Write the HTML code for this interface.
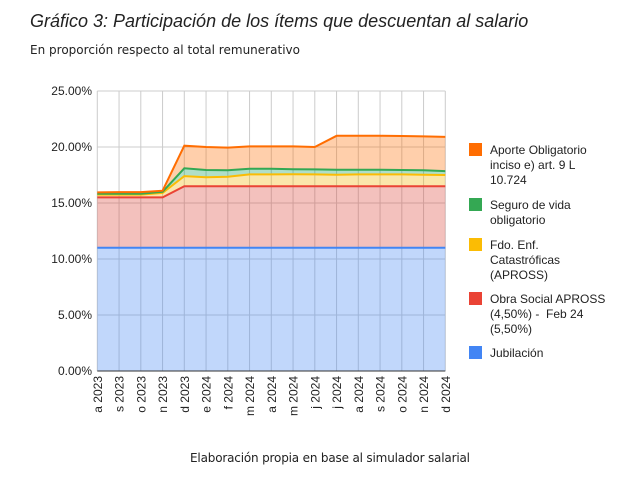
<!DOCTYPE html>
<html><head><meta charset="utf-8"><style>
body{margin:0;background:#fff;width:641px;height:492px;overflow:hidden;font-family:"Liberation Sans",sans-serif}
</style></head><body>
<svg id="s" width="641" height="492" xmlns="http://www.w3.org/2000/svg" font-family="Liberation Sans, sans-serif">
<text x="30" y="27" font-size="18" font-style="italic" fill="#222">Gráfico 3: Participación de los ítems que descuentan al salario</text>
<text x="30" y="54" font-size="12" fill="#222" font-family="DejaVu Sans, sans-serif" textLength="270">En proporción respecto al total remunerativo</text>
<text x="190" y="462" font-size="12" fill="#222" font-family="DejaVu Sans, sans-serif" textLength="280">Elaboración propia en base al simulador salarial</text>
<g id="g"></g>
</svg>
<script>
var g=document.getElementById('g'),h='';
var L=97.3,R=445.3,T=91,B=371,n=17,dx=(R-L)/16;
function X(i){return L+i*dx} function Y(v){return B-(B-T)*v/25}
for(var k=0;k<=5;k++){var y=Y(k*5);h+='<line x1="'+L+'" x2="'+R+'" y1="'+y+'" y2="'+y+'" stroke="#ccc"/>';
h+='<text x="92" y="'+(y+4)+'" font-size="12" text-anchor="end" fill="#222">'+(k*5).toFixed(2)+'%</text>';}
for(var i=0;i<n;i++)h+='<line x1="'+X(i)+'" x2="'+X(i)+'" y1="'+T+'" y2="'+B+'" stroke="#ccc"/>';
var blue=[],red=[],yel=[],grn=[],org=[];
var redv=[15.5,15.5,15.5,15.5,16.5,16.5,16.5,16.5,16.5,16.5,16.5,16.5,16.5,16.5,16.5,16.5,16.5];
var yelv=[15.75,15.75,15.75,15.9,17.4,17.3,17.35,17.55,17.55,17.57,17.55,17.52,17.55,17.55,17.55,17.53,17.5];
var grnv=[15.83,15.83,15.83,16.0,18.1,17.95,17.93,18.05,18.05,18.02,18.0,17.97,17.97,17.97,17.95,17.92,17.85];
var orgv=[15.95,15.97,15.97,16.1,20.12,20.0,19.95,20.05,20.05,20.05,20.0,21.0,21.0,21.0,20.98,20.95,20.9];
var bluev=[];for(i=0;i<n;i++)bluev.push(11);
function pts(a){return a.map(function(v,i){return X(i).toFixed(1)+','+Y(v).toFixed(1)}).join(' ')}
function area(top,bot,c){var p=pts(top);var b=bot?bot.slice().reverse().map(function(v,j){var i=n-1-j;return X(i).toFixed(1)+','+Y(v).toFixed(1)}).join(' '):X(n-1)+','+B+' '+X(0)+','+B;
h+='<polygon points="'+p+' '+b+'" fill="'+c+'" fill-opacity="0.33"/>';}
area(bluev,null,'#4285f4');area(redv,bluev,'#db4437');area(yelv,redv,'#f4b400');area(grnv,yelv,'#0f9d58');area(orgv,grnv,'#ff6d00');
[[bluev,'#4285f4'],[redv,'#ea4335'],[yelv,'#fbbc04'],[grnv,'#34a853'],[orgv,'#ff6d01']].forEach(function(s){h+='<polyline points="'+pts(s[0])+'" fill="none" stroke="'+s[1]+'" stroke-width="2"/>';});
h+='<line x1="'+L+'" x2="'+R+'" y1="'+B+'" y2="'+B+'" stroke="#333"/>';
var labs=['a 2023','s 2023','o 2023','n 2023','d 2023','e 2024','f 2024','m 2024','a 2024','m 2024','j 2024','j 2024','a 2024','s 2024','o 2024','n 2024','d 2024'];
labs.forEach(function(t,i){h+='<text transform="translate('+(X(i)+4.5)+',376) rotate(-90)" font-size="12" text-anchor="end" fill="#222">'+t+'</text>';});
var leg=[['#ff6d01',143,['Aporte Obligatorio','inciso e) art. 9 L','10.724']],['#34a853',198,['Seguro de vida','obligatorio']],['#fbbc04',238,['Fdo. Enf.','Catastróficas','(APROSS)']],['#ea4335',292,['Obra Social APROSS','(4,50%) -  Feb 24','(5,50%)']],['#4285f4',346,['Jubilación']]];
leg.forEach(function(e){h+='<rect x="469" y="'+e[1]+'" width="13" height="13" fill="'+e[0]+'"/>';e[2].forEach(function(t,j){h+='<text x="490" y="'+(e[1]+11+j*15)+'" font-size="12" fill="#222" xml:space="preserve">'+t+'</text>';});});
g.innerHTML=h;
</script>
</body></html>
